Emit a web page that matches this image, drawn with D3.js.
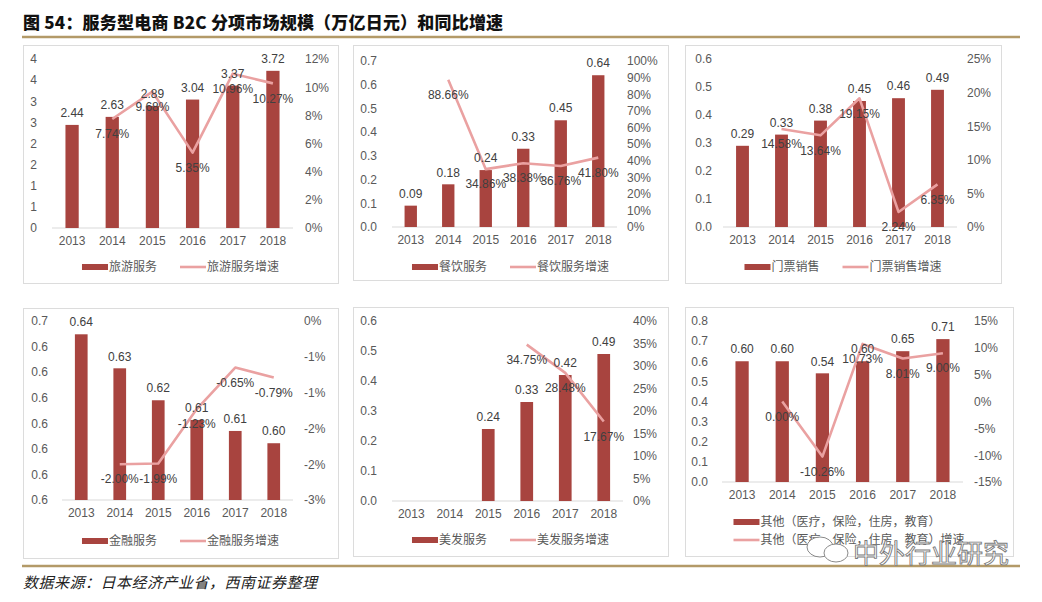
<!DOCTYPE html>
<html>
<head>
<meta charset="utf-8">
<script src="https://cdn.jsdelivr.net/npm/d3@7"></script>
<style>
  body { margin: 0; background: #fff; }
  svg { display: block; font-family: "Liberation Sans", Arial, "Noto Sans CJK SC", sans-serif; }
  .tick text { fill: #595959; font-size: 12px; }
  .lbl { fill: #404040; font-size: 12px; }
  .leg { fill: #595959; font-size: 12px; }
  .title { font-family: "Noto Sans CJK SC", sans-serif; font-weight: 900; font-size: 17px; fill: #111; }
  .foot { font-family: "Noto Sans CJK SC", sans-serif; font-style: italic; font-size: 15px; fill: #222; }
</style>
</head>
<body>
<svg id="chart" width="1042" height="602"></svg>
<script>
const years = ['2013', '2014', '2015', '2016', '2017', '2018']

// 旅游服务
const travel = [2.44, 2.63, 2.89, 3.04, 3.37, 3.72]
const travelGrowth = [null, 0.0774, 0.0968, 0.0535, 0.1096, 0.1027]
const travelTicks = [0, 0.5, 1, 1.5, 2, 2.5, 3, 3.5, 4]
const travelTickLabels = ['0', '1', '1', '2', '2', '3', '3', '4', '4']
const travelPct = [0, 0.02, 0.04, 0.06, 0.08, 0.10, 0.12]
const travelPctLabels = ['0%', '2%', '4%', '6%', '8%', '10%', '12%']

// 餐饮服务
const food = [0.09, 0.18, 0.24, 0.33, 0.45, 0.64]
const foodGrowth = [null, 0.8866, 0.3486, 0.3838, 0.3676, 0.4180]
const foodTicks = [0, 0.1, 0.2, 0.3, 0.4, 0.5, 0.6, 0.7]
const foodTickLabels = ['0.0', '0.1', '0.2', '0.3', '0.4', '0.5', '0.6', '0.7']
const foodPct = [0, 0.1, 0.2, 0.3, 0.4, 0.5, 0.6, 0.7, 0.8, 0.9, 1]
const foodPctLabels = ['0%', '10%', '20%', '30%', '40%', '50%', '60%', '70%', '80%', '90%', '100%']

// 门票销售
const ticket = [0.29, 0.33, 0.38, 0.45, 0.46, 0.49]
const ticketGrowth = [null, 0.1458, 0.1364, 0.1915, 0.0224, 0.0635]
const ticketTicks = [0, 0.1, 0.2, 0.3, 0.4, 0.5, 0.6]
const ticketTickLabels = ['0.0', '0.1', '0.2', '0.3', '0.4', '0.5', '0.6']
const ticketPct = [0, 0.05, 0.10, 0.15, 0.20, 0.25]
const ticketPctLabels = ['0%', '5%', '10%', '15%', '20%', '25%']

// 金融服务
const finance = [0.6448, 0.6315, 0.619, 0.6113, 0.607, 0.6022]
const financeGrowth = [null, -0.0200, -0.0199, -0.0123, -0.0065, -0.0079]
const financeTicks = [0.58, 0.59, 0.60, 0.61, 0.62, 0.63, 0.64, 0.65]
const financeTickLabels = ['0.6', '0.6', '0.6', '0.6', '0.6', '0.6', '0.6', '0.7']
const financePct = [-0.025, -0.02, -0.015, -0.01, -0.005, 0]
const financePctLabels = ['-3%', '-2%', '-2%', '-1%', '-1%', '0%']

// 美发服务
const hair = [null, null, 0.24, 0.33, 0.42, 0.49]
const hairGrowth = [null, null, null, 0.3475, 0.2848, 0.1767]
const hairTicks = [0, 0.1, 0.2, 0.3, 0.4, 0.5, 0.6]
const hairTickLabels = ['0.0', '0.1', '0.2', '0.3', '0.4', '0.5', '0.6']
const hairPct = [0, 0.05, 0.10, 0.15, 0.20, 0.25, 0.30, 0.35, 0.40]
const hairPctLabels = ['0%', '5%', '10%', '15%', '20%', '25%', '30%', '35%', '40%']

// 其他
const other = [0.60, 0.60, 0.54, 0.60, 0.65, 0.71]
const otherGrowth = [null, 0.0000, -0.1026, 0.1073, 0.0801, 0.0900]
const otherTicks = [0, 0.1, 0.2, 0.3, 0.4, 0.5, 0.6, 0.7, 0.8]
const otherTickLabels = ['0.0', '0.1', '0.2', '0.3', '0.4', '0.5', '0.6', '0.7', '0.8']
const otherPct = [-0.15, -0.10, -0.05, 0, 0.05, 0.10, 0.15]
const otherPctLabels = ['-15%', '-10%', '-5%', '0%', '5%', '10%', '15%']

const barColor = '#a8443f'
const lineColor = '#eaa1a1'

// hyphen minus like the original, not U+2212
const loc = d3.formatLocale({ decimal: '.', thousands: ',', grouping: [3], currency: ['', ''], minus: '-' })
const fmtVal = loc.format('.2f')
const fmtPct = loc.format('.2%')

const panels = [
    { box: [23, 45, 338, 283], x: [52, 293], y: [228, 59], leftEdge: 37, rightStart: 305, legendY: 267,
      bars: travel, growth: travelGrowth, ticks: travelTicks, tickLabels: travelTickLabels,
      pct: travelPct, pctLabels: travelPctLabels, names: ['旅游服务', '旅游服务增速'] },
    { box: [353, 45, 668, 280], x: [392, 617], y: [227, 61], leftEdge: 377, rightStart: 627, legendY: 267,
      bars: food, growth: foodGrowth, ticks: foodTicks, tickLabels: foodTickLabels,
      pct: foodPct, pctLabels: foodPctLabels, names: ['餐饮服务', '餐饮服务增速'] },
    { box: [685, 45, 1001, 283], x: [723, 957], y: [227, 59], leftEdge: 712, rightStart: 967, legendY: 267,
      bars: ticket, growth: ticketGrowth, ticks: ticketTicks, tickLabels: ticketTickLabels,
      pct: ticketPct, pctLabels: ticketPctLabels, names: ['门票销售', '门票销售增速'] },
    { box: [23, 308, 338, 558], x: [62, 293], y: [500, 321], leftEdge: 48, rightStart: 304, legendY: 541,
      bars: finance, growth: financeGrowth, ticks: financeTicks, tickLabels: financeTickLabels,
      pct: financePct, pctLabels: financePctLabels, names: ['金融服务', '金融服务增速'] },
    { box: [353, 307, 668, 556], x: [392, 623], y: [501, 321], leftEdge: 377, rightStart: 633, legendY: 540,
      bars: hair, growth: hairGrowth, ticks: hairTicks, tickLabels: hairTickLabels,
      pct: hairPct, pctLabels: hairPctLabels, names: ['美发服务', '美发服务增速'] },
    { box: [685, 307, 1013, 556], x: [722, 963], y: [482, 321], leftEdge: 708, rightStart: 974, legendY: 522,
      bars: other, growth: otherGrowth, ticks: otherTicks, tickLabels: otherTickLabels,
      pct: otherPct, pctLabels: otherPctLabels,
      names: ['其他（医疗，保险，住房，教育）', '其他（医疗，保险，住房，教育）增速'], twoRows: true }
]

const svg = d3.select('#chart')

svg.append('text')
    .attr('class', 'title')
    .attr('x', 23)
    .attr('y', 29)
    .attr('letter-spacing', 0.2)
    .text('图 54：服务型电商 B2C 分项市场规模（万亿日元）和同比增速')

svg.selectAll('line.gold')
    .data([37, 566])
    .enter()
    .append('line')
    .attr('class', 'gold')
    .attr('x1', 22)
    .attr('x2', 1020)
    .attr('y1', d => d)
    .attr('y2', d => d)
    .attr('stroke', '#b39a68')
    .attr('stroke-width', 2.5)

svg.append('text')
    .attr('class', 'foot')
    .attr('x', 23)
    .attr('y', 588)
    .attr('letter-spacing', 0.5)
    .text('数据来源：日本经济产业省，西南证券整理')

const drawPanel = p => {
    const g = svg.append('g')
    const [bx0, by0, bx1, by1] = p.box

    g.append('rect')
        .attr('x', bx0 + 0.5)
        .attr('y', by0 + 0.5)
        .attr('width', bx1 - bx0)
        .attr('height', by1 - by0)
        .attr('fill', '#fff')
        .attr('stroke', '#dcdcdc')

    const xScale = d3.scaleBand()
        .domain(years)
        .range(p.x)

    const yScale = d3.scaleLinear()
        .domain([p.ticks[0], p.ticks[p.ticks.length - 1]])
        .range(p.y)

    const y2Scale = d3.scaleLinear()
        .domain([p.pct[0], p.pct[p.pct.length - 1]])
        .range(p.y)

    const cx = d => xScale(d) + xScale.bandwidth() / 2
    const bw = xScale.bandwidth() * 0.33

    // axes
    g.append('g')
        .attr('transform', `translate(${p.leftEdge},0)`)
        .call(d3.axisLeft(yScale).tickValues(p.ticks)
            .tickFormat((d, i) => p.tickLabels[i]).tickSize(0).tickPadding(0))
        .call(a => a.select('.domain').remove())

    g.append('g')
        .attr('transform', `translate(${p.rightStart},0)`)
        .call(d3.axisRight(y2Scale).tickValues(p.pct)
            .tickFormat((d, i) => p.pctLabels[i]).tickSize(0).tickPadding(0))
        .call(a => a.select('.domain').remove())

    g.append('line')
        .attr('x1', p.x[0])
        .attr('x2', p.x[1])
        .attr('y1', p.y[0])
        .attr('y2', p.y[0])
        .attr('stroke', '#d9d9d9')

    g.append('g')
        .attr('transform', `translate(0,${p.y[0]})`)
        .call(d3.axisBottom(xScale).tickSize(0).tickPadding(8))
        .call(a => a.select('.domain').remove())

    const barData = years.map((yr, i) => ({ yr, v: p.bars[i] })).filter(d => d.v != null)
    const lineData = years.map((yr, i) => ({ yr, v: p.growth[i] }))

    g.selectAll('rect.bar')
        .data(barData)
        .enter()
        .append('rect')
        .attr('class', 'bar')
        .attr('x', d => cx(d.yr) - bw / 2)
        .attr('width', bw)
        .attr('y', d => yScale(d.v))
        .attr('height', d => p.y[0] - yScale(d.v))
        .attr('fill', barColor)

    const lineGen = d3.line()
        .defined(d => d.v != null)
        .x(d => cx(d.yr))
        .y(d => y2Scale(d.v))

    g.append('path')
        .datum(lineData)
        .attr('d', lineGen)
        .attr('fill', 'none')
        .attr('stroke', lineColor)
        .attr('stroke-width', 2.6)
        .attr('stroke-linejoin', 'round')

    g.selectAll('text.bl')
        .data(barData)
        .enter()
        .append('text')
        .attr('class', 'lbl bl')
        .attr('x', d => cx(d.yr))
        .attr('y', d => yScale(d.v) - 12)
        .attr('dy', '0.35em')
        .style('text-anchor', 'middle')
        .text(d => fmtVal(d.v))

    g.selectAll('text.ll')
        .data(lineData.filter(d => d.v != null))
        .enter()
        .append('text')
        .attr('class', 'lbl ll')
        .attr('x', d => cx(d.yr))
        .attr('y', d => y2Scale(d.v) + 15)
        .attr('dy', '0.35em')
        .style('text-anchor', 'middle')
        .text(d => fmtPct(d.v))

    // legend
    const leg = g.append('g')
    const items = p.names.map((name, i) => {
        const it = leg.append('g')
        if (i === 0) {
            it.append('rect').attr('x', 0).attr('y', -3).attr('width', 26).attr('height', 6).attr('fill', barColor)
        } else {
            it.append('line').attr('x1', 0).attr('x2', 26).attr('y1', 0).attr('y2', 0)
                .attr('stroke', lineColor).attr('stroke-width', 2.6)
        }
        const t = it.append('text').attr('class', 'leg').attr('x', 27).attr('dy', '0.35em').text(name)
        return { it, w: 27 + t.node().getComputedTextLength() }
    })
    const mid = (bx0 + bx1) / 2
    if (p.twoRows) {
        const maxW = d3.max(items, d => d.w)
        items.forEach((d, i) => d.it.attr('transform', `translate(${mid - maxW / 2},${p.legendY + i * 18})`))
    } else {
        const gap = 23
        const total = items[0].w + gap + items[1].w
        items[0].it.attr('transform', `translate(${mid - total / 2},${p.legendY})`)
        items[1].it.attr('transform', `translate(${mid - total / 2 + items[0].w + gap},${p.legendY})`)
    }
}

panels.forEach(drawPanel)

// watermark
const wm = svg.append('g').attr('fill', 'none').attr('stroke', '#8a8a8a').attr('stroke-width', 1)
wm.append('ellipse').attr('cx', 820).attr('cy', 547).attr('rx', 13).attr('ry', 10).attr('fill', '#fff')
wm.append('ellipse').attr('cx', 836).attr('cy', 553).attr('rx', 12).attr('ry', 9).attr('fill', '#fff')
svg.append('text')
    .attr('x', 853)
    .attr('y', 563)
    .attr('font-family', '"Noto Sans CJK SC", sans-serif')
    .attr('font-size', 26)
    .attr('fill', '#fff')
    .attr('stroke', '#7a7a7a')
    .attr('stroke-width', 0.9)
    .text('中外行业研究')
</script>
</body>
</html>
